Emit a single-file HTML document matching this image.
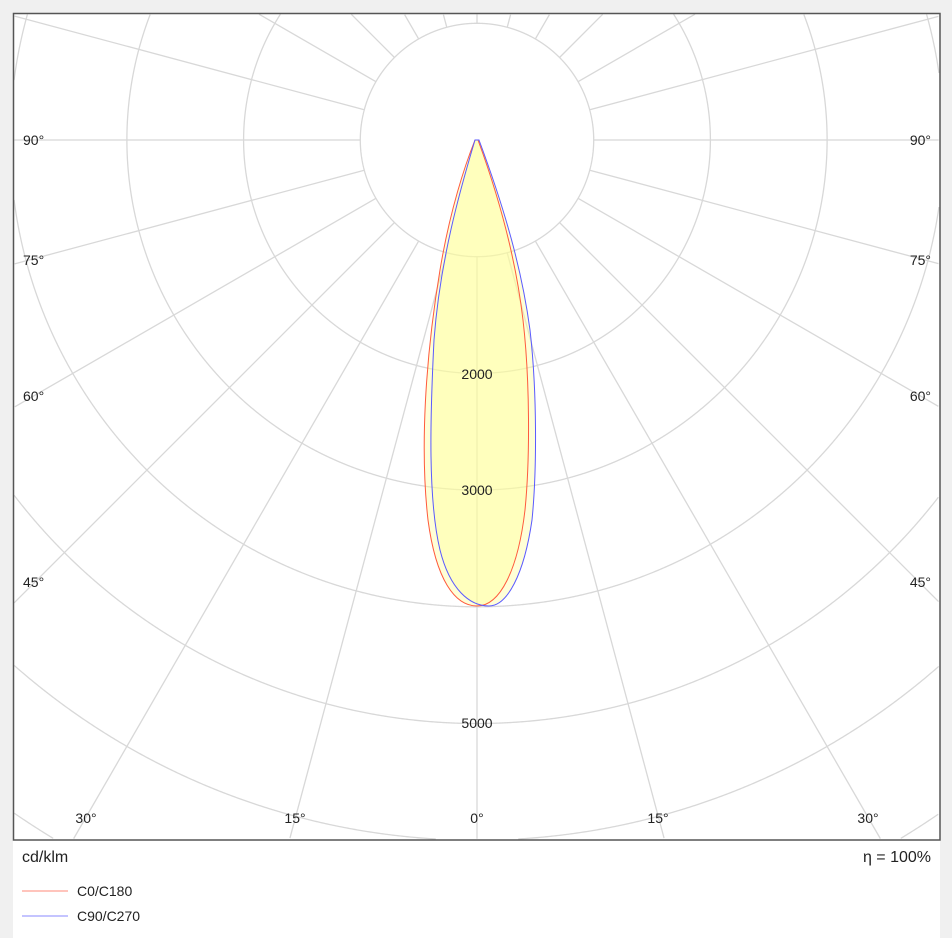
<!DOCTYPE html>
<html><head><meta charset="utf-8"><style>
html,body{margin:0;padding:0;background:#f0f0f0;width:952px;height:938px;overflow:hidden;}
svg{display:block;position:absolute;left:0;top:0;font-family:"Liberation Sans","DejaVu Sans",sans-serif;}
</style></head><body>
<svg id="s" width="952" height="938" viewBox="0 0 952 938" xmlns="http://www.w3.org/2000/svg">
<rect x="0" y="0" width="952" height="938" fill="#f0f0f0"/>
<rect x="13" y="13" width="927" height="925" fill="#fff"/>
<g id="grid" stroke="#d8d8d8" stroke-width="1.3" fill="none"></g>
<g>
<path d="M475,140 L478,140 C500,200 516,260 523,320 C530,380 530,460 525,510 C518,570 500,606 477,606 C455,606 436,580 428,520 C420,450 425,360 440,270 C450,210 465,165 475,140 Z" fill="#ffff99" fill-opacity="0.4"/>
<path d="M475,140 L479,140 C505,210 522,270 530,330 C537,390 537,470 532,520 C524,575 507,606 489,606 C470,606 450,590 440,550 C428,500 430,420 434,340 C440,260 460,190 475,140 Z" fill="#ffff99" fill-opacity="0.4"/>
<path d="M475,140 L478,140 C500,200 516,260 523,320 C530,380 530,460 525,510 C518,570 500,606 477,606 C455,606 436,580 428,520 C420,450 425,360 440,270 C450,210 465,165 475,140 Z" fill="none" stroke="#ff5a3c" stroke-width="1"/>
<path d="M475,140 L479,140 C505,210 522,270 530,330 C537,390 537,470 532,520 C524,575 507,606 489,606 C470,606 450,590 440,550 C428,500 430,420 434,340 C440,260 460,190 475,140 Z" fill="none" stroke="#5a5aff" stroke-width="1"/>
</g>
<rect x="13.5" y="13.5" width="926.5" height="826.5" fill="none" stroke="#555" stroke-width="1.5"/>
<g font-size="14" fill="#222" text-anchor="middle">
<text x="477" y="379">2000</text>
<text x="477" y="495">3000</text>
<text x="477" y="728">5000</text>
<text x="477" y="823">0°</text>
<text x="295" y="823">15°</text>
<text x="658" y="823">15°</text>
<text x="86" y="823">30°</text>
<text x="868" y="823">30°</text>
</g>
<g font-size="14" fill="#222">
<text x="23" y="145">90°</text>
<text x="23" y="265">75°</text>
<text x="23" y="401">60°</text>
<text x="23" y="587">45°</text>
</g>
<g font-size="14" fill="#222" text-anchor="end">
<text x="931" y="145">90°</text>
<text x="931" y="265">75°</text>
<text x="931" y="401">60°</text>
<text x="931" y="587">45°</text>
</g>
<text x="22" y="862" font-size="16" fill="#222">cd/klm</text>
<text x="931" y="862" font-size="16" fill="#222" text-anchor="end">η = 100%</text>
<line x1="22" y1="891" x2="68" y2="891" stroke="#ff8a78" stroke-width="1"/>
<line x1="22" y1="916" x2="68" y2="916" stroke="#8a8aff" stroke-width="1"/>
<text x="77" y="896" font-size="14" fill="#222">C0/C180</text>
<text x="77" y="921" font-size="14" fill="#222">C90/C270</text>
</svg>
<script>
var NS='http://www.w3.org/2000/svg',g=document.getElementById('grid');
var X0=14,X1=939,Y0=14,Y1=839,cx=477,cy=140;
function inside(x,y){return x>=X0&&x<=X1&&y>=Y0&&y<=Y1;}
for(var a=0;a<360;a+=15){var t=a*Math.PI/180,s=Math.sin(t),c=Math.cos(t);
 var r0=116.7,r1=r0;
 while(inside(cx+(r1+1)*s,cy+(r1+1)*c))r1+=1;
 if(r1<=r0)continue;
 var l=document.createElementNS(NS,'line');
 l.setAttribute('x1',cx+r0*s);l.setAttribute('y1',cy+r0*c);
 l.setAttribute('x2',cx+r1*s);l.setAttribute('y2',cy+r1*c);g.appendChild(l);}
for(var k=1;k<=8;k++){var r=116.7*k,d='',on=false,N=2880;
 for(var i=0;i<=N;i++){var t=i/N*2*Math.PI,x=cx+r*Math.sin(t),y=cy+r*Math.cos(t);
  if(inside(x,y)){d+=(on?'L':'M')+x.toFixed(2)+','+y.toFixed(2);on=true;}else on=false;}
 if(d){var p=document.createElementNS(NS,'path');p.setAttribute('d',d);g.appendChild(p);}}
</script>
</body></html>
